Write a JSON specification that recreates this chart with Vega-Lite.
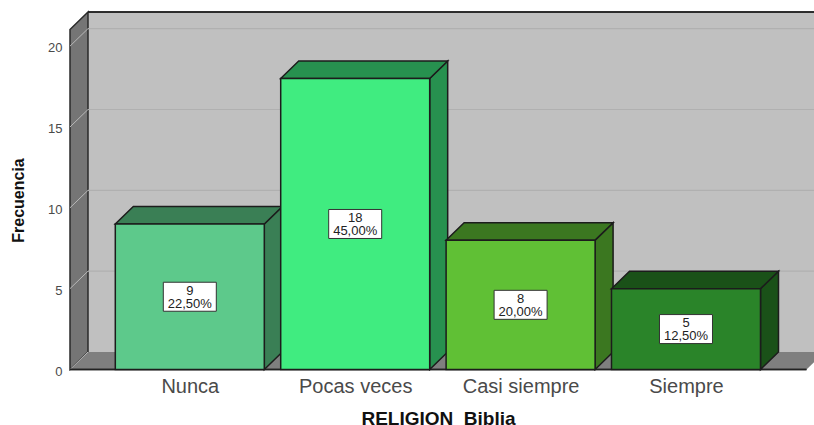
{"$schema":"https://vega.github.io/schema/vega-lite/v6.json","width":744,"height":357.5,"autosize":"none","padding":{"left":70,"top":12,"right":0,"bottom":55.5},"background":"white","config":{"view":{"stroke":null},"font":"Liberation Sans"},"datasets":{"barras":[{"categoria":"Nunca","frecuencia":9,"porcentaje":"22,50%"},{"categoria":"Pocas veces","frecuencia":18,"porcentaje":"45,00%"},{"categoria":"Casi siempre","frecuencia":8,"porcentaje":"20,00%"},{"categoria":"Siempre","frecuencia":5,"porcentaje":"12,50%"}],"lados":[{"lado":0},{"lado":1}],"marcas":[{"valor":0},{"valor":5},{"valor":10},{"valor":15},{"valor":20}]},"resolve":{"scale":{"color":"independent"}},"layer":[{"data":{"name":"lados"},"mark":{"type":"rect","fill":"#c0c0c0"},"encoding":{"x":{"datum":-0.6155,"type":"quantitative","scale":{"domain":[-0.7243,3.7739],"nice":false,"zero":false},"axis":{"values":[0,1,2,3],"labelExpr":"['Nunca','Pocas veces','Casi siempre','Siempre'][datum.value]","grid":false,"domain":false,"ticks":false,"labelFontSize":20,"labelFont":"Liberation Sans","labelColor":"#4a4a4a","labelPadding":7,"labelOverlap":false,"title":"RELIGION\u00a0\u00a0Biblia","titleFont":"Liberation Sans","titleFontSize":19,"titleFontWeight":"bold","titleColor":"#111111","titleX":368,"titleY":48.5,"titleBaseline":"middle"}},"x2":{"datum":3.7739},"y":{"datum":1.08,"type":"quantitative","scale":{"domain":[0,22.11],"nice":false,"zero":false},"axis":{"values":[0,5,10,15,20],"grid":false,"domain":false,"ticks":false,"labelFontSize":13,"labelFont":"Liberation Sans","labelColor":"#4a4a4a","labelPadding":8,"labelOffset":1.5,"title":"Frecuencia","titleFont":"Liberation Sans","titleFontSize":16,"titleFontWeight":"bold","titleColor":"#111111","titleX":-44,"titleY":188}},"y2":{"datum":22.11}}},{"data":{"name":"lados"},"transform":[{"calculate":"-0.7243+0.1088*datum.lado","as":"xp"},{"calculate":"21.03+1.08*datum.lado","as":"yp"},{"calculate":"1.08*datum.lado","as":"yb"}],"mark":{"type":"area","fill":"#757575","stroke":"#2a2a2a","strokeWidth":1.5},"encoding":{"x":{"field":"xp","type":"quantitative","scale":{"domain":[-0.7243,3.7739],"nice":false,"zero":false}},"y":{"field":"yp","type":"quantitative","scale":{"domain":[0,22.11],"nice":false,"zero":false}},"y2":{"field":"yb"}}},{"data":{"name":"lados"},"transform":[{"calculate":"1.08*datum.lado","as":"yp"},{"calculate":"-0.7243+0.1088*datum.lado","as":"x0"},{"calculate":"3.7285+0.1088*datum.lado","as":"x1"}],"mark":{"type":"area","orient":"horizontal","fill":"#7f7f7f","clip":true},"encoding":{"y":{"field":"yp","type":"quantitative","scale":{"domain":[0,22.11],"nice":false,"zero":false}},"x":{"field":"x0","type":"quantitative","scale":{"domain":[-0.7243,3.7739],"nice":false,"zero":false}},"x2":{"field":"x1"}}},{"data":{"name":"marcas"},"transform":[{"filter":"datum.valor>0"},{"calculate":"datum.valor+1.08","as":"yp"}],"mark":{"type":"rule","stroke":"#b0b0b0","strokeWidth":1.2},"encoding":{"y":{"field":"yp","type":"quantitative","scale":{"domain":[0,22.11],"nice":false,"zero":false}},"x":{"datum":-0.6155,"type":"quantitative","scale":{"domain":[-0.7243,3.7739],"nice":false,"zero":false}},"x2":{"datum":3.7739}}},{"data":{"name":"marcas"},"transform":[{"calculate":"datum.valor+1.08","as":"yp"}],"mark":{"type":"rule","stroke":"#b8b8b8","strokeWidth":1},"encoding":{"y":{"field":"valor","type":"quantitative","scale":{"domain":[0,22.11],"nice":false,"zero":false}},"y2":{"field":"yp"},"x":{"datum":-0.7243,"type":"quantitative","scale":{"domain":[-0.7243,3.7739],"nice":false,"zero":false}},"x2":{"datum":-0.6155}}},{"data":{"name":"lados"},"mark":{"type":"rule","stroke":"#222222","strokeWidth":1.5},"encoding":{"y":{"datum":22.11,"type":"quantitative","scale":{"domain":[0,22.11],"nice":false,"zero":false}},"x":{"datum":-0.6155,"type":"quantitative","scale":{"domain":[-0.7243,3.7739],"nice":false,"zero":false}},"x2":{"datum":3.7739}}},{"data":{"name":"lados"},"mark":{"type":"rule","stroke":"#222222","strokeWidth":1.5},"encoding":{"y":{"datum":0,"type":"quantitative","scale":{"domain":[0,22.11],"nice":false,"zero":false}},"x":{"datum":-0.7243,"type":"quantitative","scale":{"domain":[-0.7243,3.7739],"nice":false,"zero":false}},"x2":{"datum":3.7285}}},{"data":{"name":"barras"},"transform":[{"calculate":"indexof(['Nunca','Pocas veces','Casi siempre','Siempre'],datum.categoria)","as":"orden"},{"calculate":"[0,1]","as":"lado"},{"flatten":["lado"]},{"calculate":"datum.orden+0.4504+0.1088*datum.lado","as":"xp"},{"calculate":"datum.frecuencia+1.08*datum.lado","as":"yp"},{"calculate":"1.08*datum.lado","as":"yb"}],"mark":{"type":"area","stroke":"#1c1c1c","strokeWidth":1.5},"encoding":{"x":{"field":"xp","type":"quantitative","scale":{"domain":[-0.7243,3.7739],"nice":false,"zero":false}},"y":{"field":"yp","type":"quantitative","scale":{"domain":[0,22.11],"nice":false,"zero":false}},"y2":{"field":"yb"},"color":{"field":"categoria","type":"nominal","legend":null,"scale":{"domain":["Nunca","Pocas veces","Casi siempre","Siempre"],"range":["#3a7f55","#27914f","#3b7720","#1a5118"]}}}},{"data":{"name":"barras"},"transform":[{"calculate":"indexof(['Nunca','Pocas veces','Casi siempre','Siempre'],datum.categoria)","as":"orden"},{"calculate":"[0,1]","as":"lado"},{"flatten":["lado"]},{"calculate":"datum.orden-0.4504+0.1088*datum.lado","as":"x0"},{"calculate":"datum.orden+0.4504+0.1088*datum.lado","as":"x1"},{"calculate":"datum.frecuencia+1.08*datum.lado","as":"yp"}],"mark":{"type":"area","orient":"horizontal","stroke":"#1c1c1c","strokeWidth":1.5},"encoding":{"y":{"field":"yp","type":"quantitative","scale":{"domain":[0,22.11],"nice":false,"zero":false}},"x":{"field":"x0","type":"quantitative","scale":{"domain":[-0.7243,3.7739],"nice":false,"zero":false}},"x2":{"field":"x1"},"color":{"field":"categoria","type":"nominal","legend":null,"scale":{"domain":["Nunca","Pocas veces","Casi siempre","Siempre"],"range":["#3a7f55","#27914f","#3b7720","#1a5118"]}}}},{"data":{"name":"barras"},"transform":[{"calculate":"indexof(['Nunca','Pocas veces','Casi siempre','Siempre'],datum.categoria)","as":"orden"},{"calculate":"datum.orden-0.4504","as":"x0"},{"calculate":"datum.orden+0.4504","as":"x1"}],"mark":{"type":"rect","stroke":"#1c1c1c","strokeWidth":1.5},"encoding":{"x":{"field":"x0","type":"quantitative","scale":{"domain":[-0.7243,3.7739],"nice":false,"zero":false}},"x2":{"field":"x1"},"y":{"field":"frecuencia","type":"quantitative","scale":{"domain":[0,22.11],"nice":false,"zero":false}},"y2":{"datum":0},"color":{"field":"categoria","type":"nominal","legend":null,"scale":{"domain":["Nunca","Pocas veces","Casi siempre","Siempre"],"range":["#5dc98b","#40ec80","#60c035","#2a8429"]}}}},{"data":{"name":"barras"},"transform":[{"calculate":"indexof(['Nunca','Pocas veces','Casi siempre','Siempre'],datum.categoria)","as":"orden"},{"calculate":"datum.frecuencia/2","as":"medio"}],"mark":{"type":"rect","fill":"white","stroke":"#333333","strokeWidth":1,"width":53,"height":29},"encoding":{"x":{"field":"orden","type":"quantitative","scale":{"domain":[-0.7243,3.7739],"nice":false,"zero":false}},"y":{"field":"medio","type":"quantitative","scale":{"domain":[0,22.11],"nice":false,"zero":false}}}},{"data":{"name":"barras"},"transform":[{"calculate":"indexof(['Nunca','Pocas veces','Casi siempre','Siempre'],datum.categoria)","as":"orden"},{"calculate":"datum.frecuencia/2","as":"medio"},{"calculate":"datum.frecuencia+'\\n'+datum.porcentaje","as":"etiqueta"}],"mark":{"type":"text","font":"Liberation Sans","fontSize":13,"lineBreak":"\n","lineHeight":13,"dy":-6,"align":"center","baseline":"middle","color":"#222222"},"encoding":{"x":{"field":"orden","type":"quantitative","scale":{"domain":[-0.7243,3.7739],"nice":false,"zero":false}},"y":{"field":"medio","type":"quantitative","scale":{"domain":[0,22.11],"nice":false,"zero":false}},"text":{"field":"etiqueta"}}}]}
